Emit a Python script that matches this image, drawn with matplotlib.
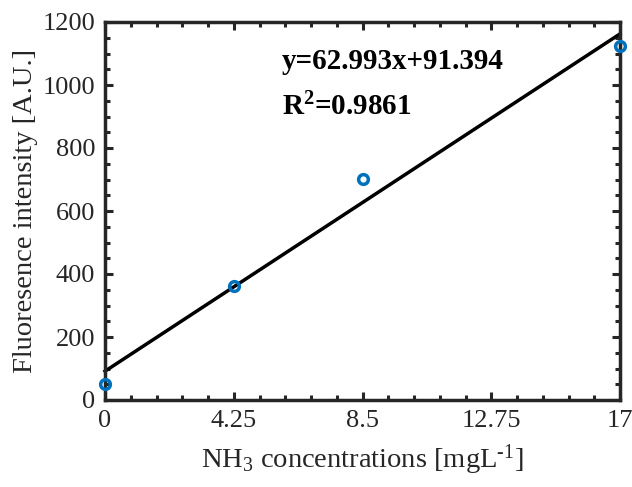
import numpy as np
import matplotlib
matplotlib.use("Agg")
import matplotlib.pyplot as plt
from matplotlib.ticker import MultipleLocator

plt.rcParams['font.family'] = ['Liberation Serif', 'DejaVu Serif']
plt.rcParams['mathtext.fontset'] = 'custom'
plt.rcParams['mathtext.rm'] = 'Liberation Serif'
plt.rcParams['mathtext.it'] = 'Liberation Serif:italic'
plt.rcParams['mathtext.bf'] = 'Liberation Serif:bold'

# data
xticks = [0, 4.25, 8.5, 12.75, 17]
xtick_labels = ['0', '4.25', '8.5', '12.75', '17']
x_pts = [0, 4.25, 8.5, 17]
y_pts = [51, 362, 701, 1123]
slope = 62.993
intercept = 91.394
r2 = 0.9861

fig = plt.figure(figsize=(6.32, 4.87), dpi=100)
ax = fig.add_axes([105/632, 87/487, 515/632, 378/487])

xl = np.array([0, 17])
ax.plot(xl, slope*xl + intercept, color='black', lw=2.5, clip_on=False, zorder=2)
ax.plot(x_pts, y_pts, 'o', mfc='none', mec='#0072BD', mew=2.5, ms=7,
        clip_on=False, zorder=3)

ax.set_xlim(0, 17)
ax.set_ylim(0, 1200)
ax.set_xticks(xticks)
ax.set_xticklabels(xtick_labels)
ax.set_yticks(np.arange(0, 1201, 200))
ax.xaxis.set_minor_locator(MultipleLocator(0.85))
ax.yaxis.set_minor_locator(MultipleLocator(50))
ax.tick_params(which='both', direction='in', top=True, right=True,
               width=2.2, labelsize=19, colors='#262626', labelcolor='#262626')
ax.tick_params(which='major', length=6, pad=7)
ax.tick_params(which='minor', length=3.5)
for s in ax.spines.values():
    s.set_linewidth(2.5)
    s.set_color('#262626')

ax.set_xlabel('NH$_{3}$ concentrations [mgL$^{\u20101}$]', fontsize=20.5, color='#262626', labelpad=8)
ax.set_ylabel('Fluoresence intensity [A.U.]', fontsize=20.5, color='#262626', labelpad=3)

ax.text(5.85, 1050, 'y=%.3fx+%.3f' % (slope, intercept), fontsize=21,
        fontweight='bold', color='black')
ax.text(5.85, 905, 'R$^{\\mathbf{2}}$=%.4f' % r2, fontsize=21,
        fontweight='bold', color='black')

fig.savefig('out.png', dpi=100)
